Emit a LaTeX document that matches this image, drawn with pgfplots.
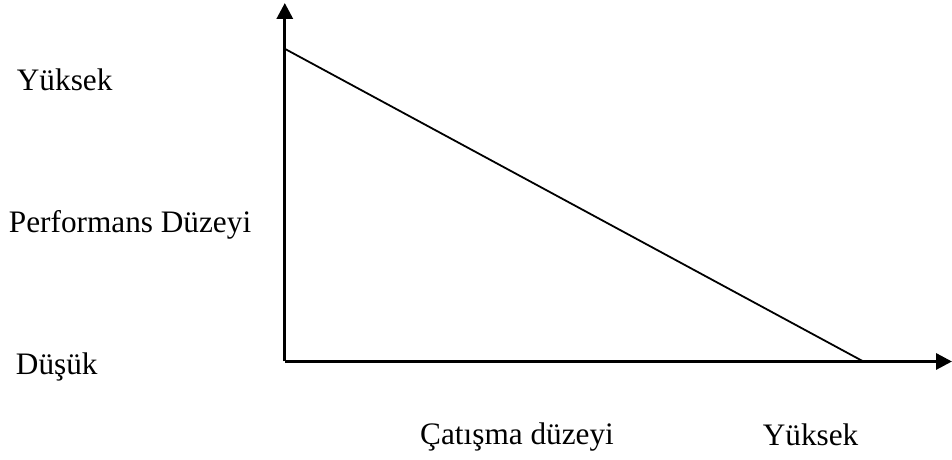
\documentclass[border=0pt]{standalone}
\usepackage{fontspec}
\setmainfont{Liberation Serif}
\usepackage{pgfplots}
\pgfplotsset{compat=1.18}
\usetikzlibrary{arrows.meta}
\tikzset{lbl/.style={font=\fontsize{15.7}{18}\selectfont, inner sep=0pt, outer sep=0pt, anchor=base west}}
\begin{document}
\begin{tikzpicture}
\begin{axis}[
  scale only axis,
  width=333pt, height=180pt,
  xmin=286, xmax=952, ymin=98, ymax=458,
  axis lines=left,
  axis line style={line width=1.6pt, -{Triangle[length=8pt,width=8pt]}},
  x axis line style={shorten >=-2pt},
  xtick=\empty, ytick=\empty,
  clip=false,
]
\addplot[black, line width=0.9pt] coordinates {(286,412) (867,98)};
\path (axis cs:0,0) -- (axis cs:952,461);
\node[lbl] at (axis cs:17,370) {Yüksek};
\node[lbl] at (axis cs:9,228) {Performans Düzeyi};
\node[lbl] at (axis cs:16,85) {Düşük};
\node[lbl] at (axis cs:422,15) {Çatışma düzeyi};
\node[lbl] at (axis cs:766,14) {Yüksek};
\end{axis}
\end{tikzpicture}
\end{document}
